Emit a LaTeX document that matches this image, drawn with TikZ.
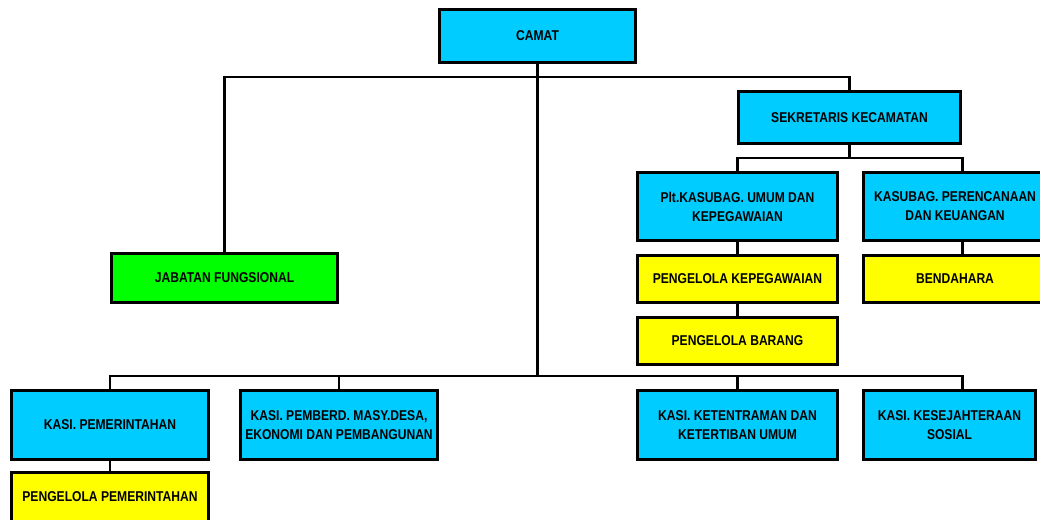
\documentclass[tikz,border=0pt]{standalone}
\usepackage{fontspec}
\setmainfont{Liberation Sans}[FakeStretch=0.85]
\usetikzlibrary{positioning}

\definecolor{kotakbiru}{HTML}{00CCFF}
\definecolor{kotakhijau}{HTML}{00FF00}
\definecolor{kotakkuning}{HTML}{FFFF00}

\begin{document}
\begin{tikzpicture}[
  x=0.02cm, y=-0.02cm,
  font=\fontsize{8.1}{10.8}\selectfont\bfseries,
  jabatan/.style={draw, line width=1.9pt, align=center, inner sep=0pt, fill=kotakbiru},
  fungsi/.style={jabatan, fill=kotakhijau},
  staf/.style={jabatan, fill=kotakkuning},
  link/.style={line width=1.7pt, draw=black}
]
\clip (0,0) rectangle (1040,520);
\fill[white] (0,0) rectangle (1040,520);

\node[jabatan, minimum width=3.92cm, minimum height=1.06cm] (camat) at (537.5,36) {CAMAT};

\node[jabatan, minimum width=4.43cm, minimum height=1.03cm] (sekcam) at (849.5,117.5) {SEKRETARIS KECAMATAN};

\node[fungsi, minimum width=4.51cm, minimum height=0.97cm] (fungsional) at (224.5,278) {JABATAN FUNGSIONAL};

\node[jabatan, minimum width=3.99cm, minimum height=1.35cm] (umum) at (737.5,206.5)
  {Plt.KASUBAG. UMUM DAN\\KEPEGAWAIAN};
\node[jabatan, minimum width=3.65cm, minimum height=1.35cm] (rencana) at (955,206.5)
  {KASUBAG. PERENCANAAN\\DAN KEUANGAN};

\node[staf, minimum width=3.99cm, minimum height=0.93cm] (kepeg) at (737.5,279) {PENGELOLA KEPEGAWAIAN};
\node[staf, minimum width=3.65cm, minimum height=0.93cm] (bendahara) at (955,279) {BENDAHARA};
\node[staf, minimum width=3.99cm, minimum height=0.93cm] (barang) at (737.5,341) {PENGELOLA BARANG};

\node[jabatan, minimum width=3.93cm, minimum height=1.37cm] (pemerintahan) at (110,425) {KASI. PEMERINTAHAN};
\node[jabatan, minimum width=3.93cm, minimum height=1.37cm] (pemberd) at (339,425)
  {KASI. PEMBERD. MASY.DESA,\\EKONOMI DAN PEMBANGUNAN};
\node[jabatan, minimum width=3.99cm, minimum height=1.37cm] (ketentraman) at (737.5,425)
  {KASI. KETENTRAMAN DAN\\KETERTIBAN UMUM};
\node[jabatan, minimum width=3.43cm, minimum height=1.37cm] (kesejahteraan) at (949.5,425)
  {KASI. KESEJAHTERAAN\\SOSIAL};

\node[staf, minimum width=3.93cm, minimum height=0.97cm] (pengpem) at (110,497) {PENGELOLA PEMERINTAHAN};

% garis penghubung
\coordinate (topbus) at (0,77);
\coordinate (midbus) at (0,158);
\coordinate (botbus) at (0,376);
\coordinate (rcol) at (962,0);

\draw[link] (camat.south) -- (camat.south |- botbus);
\draw[link] (fungsional.north) |- (topbus -| sekcam.north) -- (sekcam.north);

\draw[link] (sekcam.south) -- (sekcam.south |- midbus);
\draw[link] (umum.north) |- (midbus -| rcol) -- (rencana.north -| rcol);
\draw[link] (umum.south) -- (kepeg.north);
\draw[link] (kepeg.south) -- (barang.north);
\draw[link] (rencana.south -| rcol) -- (bendahara.north -| rcol);

\draw[link] (pemerintahan.north) |- (botbus -| rcol) -- (kesejahteraan.north -| rcol);
\draw[link] (pemberd.north) -- (pemberd.north |- botbus);
\draw[link] (ketentraman.north) -- (ketentraman.north |- botbus);
\draw[link] (pemerintahan.south) -- (pengpem.north);

\end{tikzpicture}
\end{document}
